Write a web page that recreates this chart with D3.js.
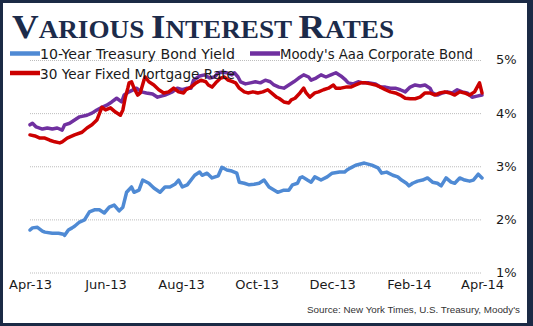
<!DOCTYPE html>
<html><head><meta charset="utf-8">
<script src="https://cdn.jsdelivr.net/npm/d3@7"></script>
<style>
html,body{margin:0;padding:0;background:#fff;}
svg{display:block;}
</style></head>
<body>
<svg id="chart" width="533" height="326"></svg>
<script>
// ---- Data ----
const titleParts = [["V",true],["ARIOUS ",false],["I",true],["NTEREST ",false],["R",true],["ATES",false]];
const seriesNames = ["10-Year Treasury Bond Yield","Moody's Aaa Corporate Bond","30 Year Fixed Mortgage Rate"];
const xTickLabels = ["2013-04-01","2013-06-01","2013-08-01","2013-10-01","2013-12-01","2014-02-01","2014-04-01"];
const yTicks = [1,2,3,4,5];
const sourceText = "Source:  New York Times, U.S. Treasury, Moody's";

const treasury = [
["2013-04-01",1.80],["2013-04-03",1.84],["2013-04-07",1.85],["2013-04-11",1.78],["2013-04-13",1.76],
["2013-04-19",1.74],["2013-04-24",1.74],["2013-04-28",1.72],["2013-04-29",1.70],["2013-05-02",1.80],
["2013-05-05",1.84],["2013-05-07",1.87],["2013-05-11",1.95],["2013-05-15",1.99],["2013-05-19",2.14],
["2013-05-23",2.18],["2013-05-27",2.18],["2013-05-31",2.12],["2013-06-04",2.23],["2013-06-08",2.27],
["2013-06-12",2.16],["2013-06-15",2.23],["2013-06-18",2.51],["2013-06-22",2.61],["2013-06-24",2.51],
["2013-06-28",2.55],["2013-07-01",2.74],["2013-07-06",2.68],["2013-07-10",2.59],["2013-07-15",2.51],
["2013-07-19",2.61],["2013-07-23",2.61],["2013-07-27",2.66],["2013-07-30",2.74],["2013-08-02",2.61],
["2013-08-06",2.65],["2013-08-12",2.83],["2013-08-16",2.89],["2013-08-18",2.83],["2013-08-22",2.87],
["2013-08-26",2.78],["2013-08-31",2.82],["2013-09-03",2.98],["2013-09-07",2.93],["2013-09-11",2.91],
["2013-09-15",2.87],["2013-09-17",2.70],["2013-09-21",2.68],["2013-09-25",2.65],["2013-09-29",2.66],
["2013-10-03",2.68],["2013-10-07",2.74],["2013-10-11",2.61],["2013-10-18",2.51],["2013-10-23",2.55],
["2013-10-27",2.55],["2013-10-30",2.65],["2013-11-03",2.68],["2013-11-05",2.78],["2013-11-07",2.80],
["2013-11-11",2.74],["2013-11-14",2.70],["2013-11-17",2.80],["2013-11-22",2.74],["2013-11-27",2.80],
["2013-12-01",2.87],["2013-12-07",2.89],["2013-12-11",2.89],["2013-12-13",2.93],["2013-12-16",2.97],
["2013-12-20",3.02],["2013-12-27",3.06],["2014-01-02",3.02],["2014-01-07",2.97],["2014-01-10",2.87],
["2014-01-14",2.89],["2014-01-19",2.83],["2014-01-23",2.80],["2014-01-26",2.74],["2014-01-30",2.68],
["2014-02-01",2.63],["2014-02-04",2.68],["2014-02-08",2.72],["2014-02-12",2.74],["2014-02-16",2.78],
["2014-02-20",2.70],["2014-02-24",2.68],["2014-02-27",2.63],["2014-03-03",2.78],["2014-03-07",2.70],
["2014-03-10",2.68],["2014-03-14",2.78],["2014-03-18",2.74],["2014-03-22",2.72],["2014-03-25",2.74],
["2014-03-29",2.85],["2014-04-01",2.78]
];

const corporate = [
["2013-04-01",3.78],["2013-04-03",3.81],["2013-04-06",3.74],["2013-04-11",3.70],["2013-04-15",3.72],
["2013-04-19",3.70],["2013-04-23",3.72],["2013-04-27",3.68],["2013-04-29",3.78],["2013-05-03",3.81],
["2013-05-07",3.87],["2013-05-11",3.93],["2013-05-17",3.96],["2013-05-21",4.00],["2013-05-25",4.06],
["2013-05-29",4.11],["2013-06-02",4.15],["2013-06-06",4.21],["2013-06-10",4.28],["2013-06-14",4.21],
["2013-06-16",4.34],["2013-06-20",4.40],["2013-06-26",4.47],["2013-06-30",4.40],["2013-07-04",4.38],
["2013-07-09",4.36],["2013-07-13",4.30],["2013-07-19",4.34],["2013-07-25",4.40],["2013-07-29",4.47],
["2013-08-02",4.44],["2013-08-06",4.47],["2013-08-09",4.47],["2013-08-11",4.62],["2013-08-16",4.70],
["2013-08-20",4.72],["2013-08-24",4.66],["2013-08-28",4.68],["2013-08-31",4.76],["2013-09-03",4.77],
["2013-09-07",4.76],["2013-09-11",4.72],["2013-09-13",4.76],["2013-09-16",4.68],["2013-09-18",4.59],
["2013-09-22",4.55],["2013-09-26",4.57],["2013-09-30",4.59],["2013-10-04",4.57],["2013-10-08",4.62],
["2013-10-12",4.59],["2013-10-15",4.53],["2013-10-19",4.49],["2013-10-23",4.47],["2013-10-27",4.53],
["2013-10-31",4.59],["2013-11-04",4.66],["2013-11-08",4.72],["2013-11-12",4.68],["2013-11-14",4.62],
["2013-11-18",4.66],["2013-11-22",4.72],["2013-11-26",4.68],["2013-11-30",4.72],["2013-12-04",4.76],
["2013-12-08",4.70],["2013-12-12",4.62],["2013-12-14",4.57],["2013-12-18",4.55],["2013-12-22",4.59],
["2013-12-26",4.57],["2013-12-30",4.57],["2014-01-05",4.55],["2014-01-09",4.49],["2014-01-13",4.49],
["2014-01-17",4.47],["2014-01-21",4.47],["2014-01-25",4.44],["2014-01-29",4.40],["2014-02-02",4.49],
["2014-02-06",4.53],["2014-02-10",4.51],["2014-02-14",4.53],["2014-02-18",4.47],["2014-02-20",4.38],
["2014-02-24",4.34],["2014-02-28",4.38],["2014-03-04",4.40],["2014-03-08",4.38],["2014-03-12",4.44],
["2014-03-16",4.40],["2014-03-20",4.38],["2014-03-24",4.30],["2014-03-28",4.32],["2014-04-01",4.34]
];

const mortgage = [
["2013-04-01",3.59],["2013-04-05",3.57],["2013-04-09",3.53],["2013-04-13",3.53],["2013-04-17",3.49],
["2013-04-21",3.46],["2013-04-25",3.44],["2013-04-27",3.46],["2013-05-01",3.53],["2013-05-07",3.59],
["2013-05-13",3.64],["2013-05-17",3.72],["2013-05-21",3.78],["2013-05-25",3.87],["2013-05-29",4.11],
["2013-06-01",4.06],["2013-06-05",4.10],["2013-06-09",4.02],["2013-06-13",3.96],["2013-06-15",4.06],
["2013-06-17",4.30],["2013-06-19",4.47],["2013-06-20",4.57],["2013-06-22",4.59],["2013-06-24",4.47],
["2013-06-27",4.34],["2013-06-29",4.38],["2013-07-02",4.62],["2013-07-03",4.68],["2013-07-06",4.59],
["2013-07-10",4.53],["2013-07-14",4.44],["2013-07-18",4.38],["2013-07-22",4.40],["2013-07-26",4.47],
["2013-07-30",4.40],["2013-08-03",4.38],["2013-08-05",4.44],["2013-08-09",4.49],["2013-08-13",4.57],
["2013-08-17",4.62],["2013-08-21",4.59],["2013-08-23",4.53],["2013-08-26",4.49],["2013-08-29",4.57],
["2013-09-02",4.66],["2013-09-05",4.68],["2013-09-08",4.62],["2013-09-12",4.59],["2013-09-14",4.57],
["2013-09-17",4.47],["2013-09-21",4.40],["2013-09-24",4.38],["2013-09-28",4.40],["2013-10-02",4.38],
["2013-10-06",4.40],["2013-10-10",4.44],["2013-10-13",4.38],["2013-10-17",4.30],["2013-10-19",4.28],
["2013-10-23",4.21],["2013-10-27",4.19],["2013-10-29",4.25],["2013-11-01",4.28],["2013-11-05",4.38],
["2013-11-08",4.47],["2013-11-10",4.38],["2013-11-13",4.30],["2013-11-17",4.38],["2013-11-20",4.40],
["2013-11-24",4.44],["2013-11-28",4.47],["2013-12-02",4.53],["2013-12-04",4.47],["2013-12-08",4.47],
["2013-12-12",4.49],["2013-12-16",4.49],["2013-12-20",4.53],["2013-12-24",4.57],["2013-12-28",4.57],
["2014-01-01",4.55],["2014-01-05",4.53],["2014-01-09",4.49],["2014-01-13",4.44],["2014-01-17",4.40],
["2014-01-21",4.38],["2014-01-25",4.34],["2014-01-29",4.28],["2014-02-02",4.27],["2014-02-06",4.27],
["2014-02-10",4.30],["2014-02-14",4.38],["2014-02-18",4.38],["2014-02-22",4.34],["2014-02-26",4.38],
["2014-03-02",4.40],["2014-03-06",4.38],["2014-03-10",4.34],["2014-03-14",4.40],["2014-03-18",4.38],
["2014-03-22",4.34],["2014-03-26",4.40],["2014-03-30",4.57],["2014-04-01",4.38]
];

const seriesColors = ["#4f8ad4","#7030a0","#cc0000"];

// ---- Drawing ----
const W = 533, H = 326;
const svg = d3.select("#chart");
const parse = d3.timeParse("%Y-%m-%d");

// frame
svg.append("rect").attr("x",0).attr("y",0).attr("width",W).attr("height",H).attr("fill","#1b2a45");
svg.append("rect").attr("x",3).attr("y",3).attr("width",524).attr("height",320).attr("fill","#ffffff");

const x = d3.scaleTime().domain([parse("2013-04-01"), parse("2014-04-01")]).range([30, 482]);
const y = d3.scaleLinear().domain([1,5]).range([272.5, 60]);

// gridlines
const grid = svg.append("g").attr("transform","translate(30,0)")
  .call(d3.axisLeft(y).tickValues(yTicks).tickSize(-452).tickFormat(""));
grid.select(".domain").remove();
grid.selectAll(".tick line").attr("stroke","#bdbdbd").attr("stroke-width",1).attr("stroke-dasharray","1,1");

// title
const title = svg.append("text").attr("x",12).attr("y",38)
  .attr("font-family","'Liberation Serif','DejaVu Serif',serif").attr("font-weight","bold")
  .attr("fill","#1c2b4a").attr("textLength",382).attr("lengthAdjust","spacingAndGlyphs");
titleParts.forEach(([t,big]) => {
  title.append("tspan").attr("font-size", big ? 34 : 25).text(t);
});

// lines
const line = d3.line().x(d => x(parse(d[0]))).y(d => y(d[1]));
[treasury, corporate, mortgage].forEach((s,i) => {
  svg.append("path").datum(s).attr("d", line).attr("fill","none")
    .attr("stroke", seriesColors[i]).attr("stroke-width",3.5)
    .attr("stroke-linejoin","round").attr("stroke-linecap","round");
});

// legend
const legendItems = [
  {name: seriesNames[0], color: seriesColors[0], x: 10, y: 53.5, len: 195},
  {name: seriesNames[1], color: seriesColors[1], x: 250, y: 53.5, len: 193},
  {name: seriesNames[2], color: seriesColors[2], x: 10, y: 73, len: 195}
];
legendItems.forEach(it => {
  svg.append("line").attr("x1",it.x).attr("x2",it.x+30).attr("y1",it.y).attr("y2",it.y)
    .attr("stroke",it.color).attr("stroke-width",4.5);
  svg.append("text").attr("x",it.x+30).attr("y",it.y+5.5)
    .attr("font-family","'DejaVu Sans',sans-serif").attr("font-size",13.5)
    .attr("fill","#1a1a1a").attr("textLength",it.len).attr("lengthAdjust","spacingAndGlyphs")
    .text(it.name);
});

// y axis labels (right)
const yAxis = svg.append("g").attr("transform","translate(496,0)")
  .call(d3.axisRight(y).tickValues(yTicks).tickSize(0).tickPadding(0).tickFormat(d => d + "%"));
yAxis.select(".domain").remove();
yAxis.selectAll("text").attr("font-family","'DejaVu Sans',sans-serif").attr("font-size",13)
  .attr("fill","#1a1a1a").attr("text-anchor","start").attr("dy","0.3em");

// x axis labels
const xAxis = svg.append("g").attr("transform","translate(0,279)")
  .call(d3.axisBottom(x).tickValues(xTickLabels.map(parse)).tickSize(0).tickPadding(0)
    .tickFormat(d3.timeFormat("%b-%y")));
xAxis.select(".domain").remove();
xAxis.selectAll("text").attr("font-family","'DejaVu Sans',sans-serif").attr("font-size",13)
  .attr("fill","#1a1a1a").attr("dy","0.8em");

// source
svg.append("text").attr("x",520).attr("y",313).attr("text-anchor","end")
  .attr("font-family","'Liberation Sans',sans-serif").attr("font-size",9.5)
  .attr("fill","#333").attr("textLength",213).attr("lengthAdjust","spacingAndGlyphs")
  .text(sourceText);
</script>
</body></html>
